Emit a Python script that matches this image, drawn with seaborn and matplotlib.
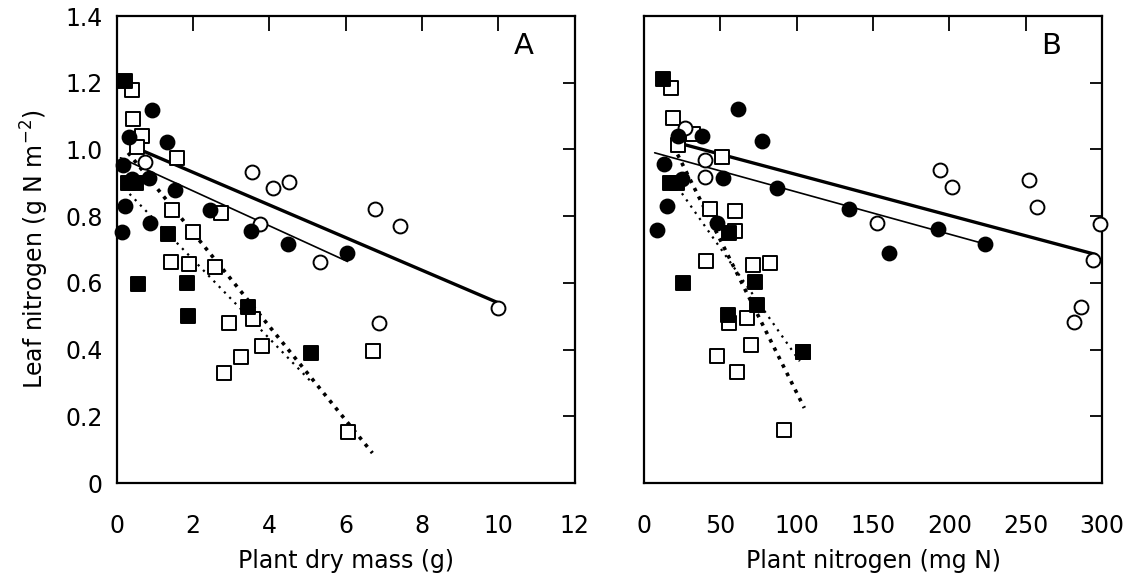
import matplotlib

matplotlib.use("Agg")

import matplotlib.pyplot as plt
import seaborn as sns

# Panel A: plant dry mass (g) vs leaf nitrogen (g N m-2)
A_FILLED_CIRCLE_X = [0.93, 0.33, 1.31, 0.17, 0.40, 0.86, 1.53, 0.22, 2.45, 0.87, 3.51, 0.13, 4.50, 6.03]
A_FILLED_CIRCLE_Y = [1.118, 1.037, 1.023, 0.953, 0.910, 0.914, 0.879, 0.829, 0.819, 0.779, 0.757, 0.754, 0.716, 0.689]
A_OPEN_CIRCLE_X = [0.74, 3.54, 4.52, 4.09, 3.76, 5.33, 6.77, 7.43, 9.99, 6.88]
A_OPEN_CIRCLE_Y = [0.963, 0.932, 0.903, 0.884, 0.777, 0.664, 0.822, 0.771, 0.524, 0.481]
A_FILLED_SQUARE_X = [0.22, 0.30, 0.50, 0.55, 1.34, 1.83, 1.86, 3.43, 5.10]
A_FILLED_SQUARE_Y = [1.206, 0.900, 0.900, 0.597, 0.747, 0.601, 0.502, 0.529, 0.389]
A_OPEN_SQUARE_X = [0.39, 0.44, 0.67, 0.54, 1.57, 1.44, 2.73, 1.99, 1.42, 1.90, 2.58, 3.58, 2.94, 3.80, 3.26, 2.82, 6.07, 6.71]
A_OPEN_SQUARE_Y = [1.178, 1.090, 1.041, 1.008, 0.975, 0.819, 0.809, 0.752, 0.664, 0.657, 0.649, 0.492, 0.479, 0.411, 0.379, 0.331, 0.154, 0.396]

# Panel B: plant nitrogen (mg N) vs leaf nitrogen
B_FILLED_CIRCLE_X = [61.4, 37.8, 22.1, 77.1, 13.3, 51.9, 24.7, 86.9, 14.9, 48.0, 8.3, 134.3, 192.4, 160.5, 223.6]
B_FILLED_CIRCLE_Y = [1.121, 1.040, 1.040, 1.026, 0.955, 0.914, 0.910, 0.884, 0.830, 0.780, 0.759, 0.821, 0.761, 0.689, 0.717]
B_OPEN_CIRCLE_X = [26.9, 40.0, 40.0, 193.9, 201.9, 252.0, 257.6, 152.8, 298.7, 293.9, 286.2, 281.9]
B_OPEN_CIRCLE_Y = [1.063, 0.969, 0.918, 0.939, 0.888, 0.909, 0.827, 0.781, 0.777, 0.669, 0.527, 0.484]
B_FILLED_SQUARE_X = [12.6, 17.0, 21.6, 25.7, 55.7, 72.9, 73.8, 55.2, 104.3]
B_FILLED_SQUARE_Y = [1.210, 0.900, 0.900, 0.600, 0.749, 0.604, 0.534, 0.504, 0.394]
B_OPEN_SQUARE_X = [17.5, 19.2, 31.9, 22.1, 51.3, 43.2, 59.6, 59.6, 40.6, 71.2, 82.5, 55.9, 67.3, 70.1, 47.6, 61.1, 104.3, 91.7]
B_OPEN_SQUARE_Y = [1.183, 1.095, 1.046, 1.013, 0.978, 0.820, 0.814, 0.756, 0.666, 0.654, 0.661, 0.481, 0.494, 0.414, 0.382, 0.332, 0.394, 0.159]

# fitted regression lines (end points)
A_FIT_OPEN_CIRCLE = ([0.6, 10.0], [1.00, 0.54])
A_FIT_FILLED_CIRCLE = ([0.1, 6.05], [0.975, 0.664])
A_FIT_OPEN_SQUARE = ([0.3, 6.7], [0.99, 0.09])
A_FIT_FILLED_SQUARE = ([0.2, 5.1], [0.883, 0.303])
B_FIT_OPEN_CIRCLE = ([22.0, 296.0], [1.02, 0.685])
B_FIT_FILLED_CIRCLE = ([7.0, 223.0], [0.99, 0.717])
B_FIT_OPEN_SQUARE = ([22.0, 105.0], [0.985, 0.225])
B_FIT_FILLED_SQUARE = ([22.0, 102.0], [0.887, 0.365])

Y_TICKS = [0, 0.2, 0.4, 0.6, 0.8, 1.0, 1.2, 1.4]
Y_TICK_LABELS = ["0", "0.2", "0.4", "0.6", "0.8", "1.0", "1.2", "1.4"]
A_X_TICKS = [0, 2, 4, 6, 8, 10, 12]
B_X_TICKS = [0, 50, 100, 150, 200, 250, 300]

FONT = 17


def draw_points(ax, xs, ys, marker, filled):
    face = "black" if filled else "white"
    sns.scatterplot(
        x=xs,
        y=ys,
        marker=marker,
        s=100 if marker == "o" else 90,
        color=face,
        edgecolor="black",
        linewidth=1.4,
        clip_on=False,
        zorder=3,
        ax=ax,
    )


def draw_fits(ax, fits):
    styles = [
        dict(linewidth=2.4, linestyle="-"),
        dict(linewidth=1.2, linestyle="-"),
        dict(linewidth=2.6, linestyle=(0, (1, 1.6))),
        dict(linewidth=1.6, linestyle=(0, (1, 2.4))),
    ]
    for (xs, ys), style in zip(fits, styles):
        ax.plot(xs, ys, color="black", zorder=2, **style)


def style_axes(ax, xticks, xlabel, letter, show_y):
    ax.set_xlim(xticks[0], xticks[-1])
    ax.set_ylim(0, 1.4)
    ax.set_xticks(xticks)
    ax.set_yticks(Y_TICKS)
    ax.set_yticklabels(Y_TICK_LABELS if show_y else [])
    ax.tick_params(axis="x", direction="in", length=11, width=1.3, top=True,
                   labelsize=FONT, pad=22, colors="black")
    ax.tick_params(axis="y", direction="in", length=9, width=1.3, right=True,
                   labelsize=FONT, pad=10, colors="black")
    for spine in ax.spines.values():
        spine.set_visible(True)
        spine.set_linewidth(1.6)
        spine.set_color("black")
    ax.set_xlabel(xlabel, fontsize=FONT, labelpad=8, color="black")
    if show_y:
        ax.set_ylabel("Leaf nitrogen (g N m$^{-2}$)", fontsize=FONT, labelpad=10, color="black")
    ax.text(0.889, 0.935, letter, transform=ax.transAxes, fontsize=21,
            ha="center", va="center", color="black")


def main():
    sns.set_style("white")
    plt.rcParams["font.family"] = ["DejaVu Sans"]
    plt.rcParams["text.color"] = "black"
    plt.rcParams["axes.labelcolor"] = "black"

    fig = plt.figure(figsize=(11.36, 5.83), dpi=100)
    ax_a = fig.add_axes([0.1027, 0.1715, 0.4032, 0.801])
    ax_b = fig.add_axes([0.5669, 0.1715, 0.4032, 0.801])

    draw_fits(ax_a, [A_FIT_OPEN_CIRCLE, A_FIT_FILLED_CIRCLE, A_FIT_OPEN_SQUARE, A_FIT_FILLED_SQUARE])
    draw_points(ax_a, A_OPEN_SQUARE_X, A_OPEN_SQUARE_Y, "s", False)
    draw_points(ax_a, A_OPEN_CIRCLE_X, A_OPEN_CIRCLE_Y, "o", False)
    draw_points(ax_a, A_FILLED_CIRCLE_X, A_FILLED_CIRCLE_Y, "o", True)
    draw_points(ax_a, A_FILLED_SQUARE_X, A_FILLED_SQUARE_Y, "s", True)
    style_axes(ax_a, A_X_TICKS, "Plant dry mass (g)", "A", True)

    draw_fits(ax_b, [B_FIT_OPEN_CIRCLE, B_FIT_FILLED_CIRCLE, B_FIT_OPEN_SQUARE, B_FIT_FILLED_SQUARE])
    draw_points(ax_b, B_OPEN_SQUARE_X, B_OPEN_SQUARE_Y, "s", False)
    draw_points(ax_b, B_OPEN_CIRCLE_X, B_OPEN_CIRCLE_Y, "o", False)
    draw_points(ax_b, B_FILLED_CIRCLE_X, B_FILLED_CIRCLE_Y, "o", True)
    draw_points(ax_b, B_FILLED_SQUARE_X, B_FILLED_SQUARE_Y, "s", True)
    style_axes(ax_b, B_X_TICKS, "Plant nitrogen (mg N)", "B", False)

    fig.savefig("out.png", dpi=100)
    plt.close(fig)


if __name__ == "__main__":
    main()
